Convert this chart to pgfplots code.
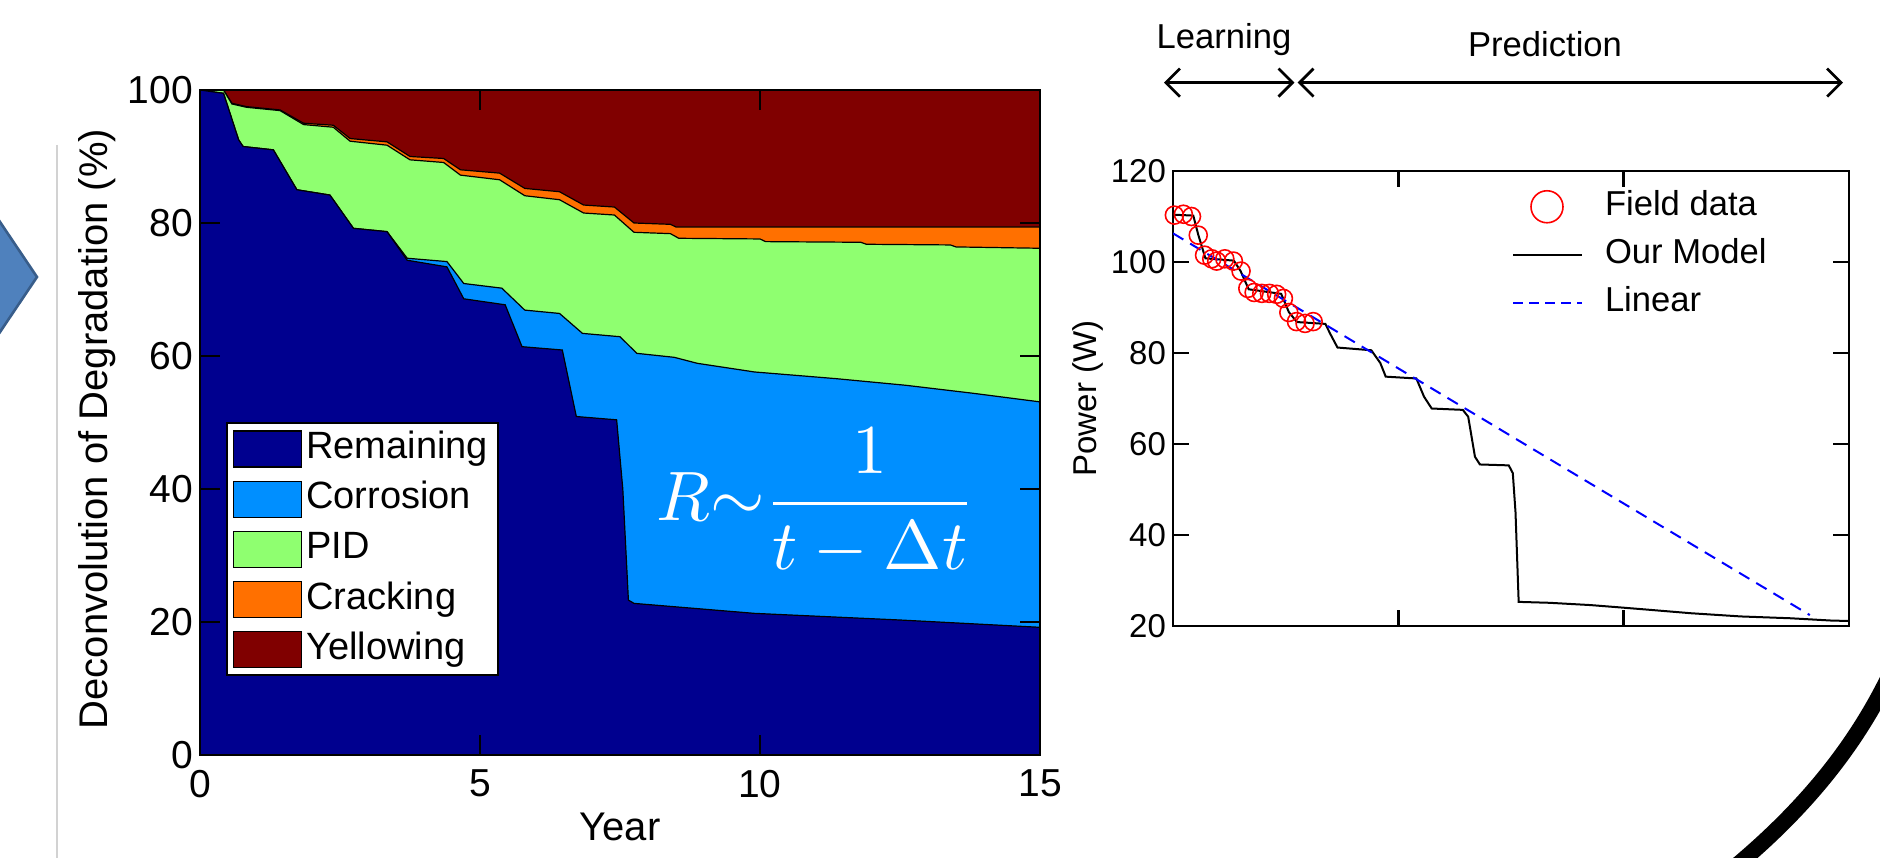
\documentclass[border=0pt]{standalone}
\usepackage{graphicx}
\usepackage{fontspec}
\setmainfont{Liberation Sans}
\usepackage{pgfplots}
\pgfplotsset{compat=1.18}
\usetikzlibrary{arrows.meta}
\definecolor{remC}{rgb}{0,0,0.56}
\definecolor{corC}{rgb}{0,0.56,1}
\definecolor{pidC}{rgb}{0.56,1,0.44}
\definecolor{crkC}{rgb}{1,0.44,0}
\definecolor{yelC}{rgb}{0.5,0,0}
\definecolor{arrowblue}{RGB}{79,129,189}
\definecolor{arrowedge}{RGB}{56,93,138}
\begin{document}
\begin{tikzpicture}
\useasboundingbox (0,0) rectangle (940pt,428.5pt);
% slide decorations
\fill[arrowblue,draw=arrowedge,line width=1.3pt] (-10pt,332.4pt) -- (18.5pt,290pt) -- (-10pt,247.6pt) -- cycle;
\draw[gray!35,line width=0.6pt] (28.5pt,356pt) -- (28.5pt,-2pt);
\draw[line width=8pt] (955pt,115pt) .. controls (935pt,60pt) and (900pt,20pt) .. (855pt,-15pt);

% ---------------- left chart ----------------
\begin{axis}[
  at={(100pt,51pt)}, anchor=south west,
  width=420pt, height=332.5pt, scale only axis,
  xmin=0, xmax=15, ymin=0, ymax=100,
  xtick={0,5,10,15}, ytick={0,20,...,100},
  tick align=inside, major tick length=10pt,
  axis on top,
  axis line style={line width=1.2pt},
  tick style={line width=1.2pt, black},
  /pgf/number format/assume math mode=true,
  tick label style={font=\fontsize{19.5}{23}\selectfont},
  xticklabel style={yshift=-4pt},
  xlabel={Year}, ylabel={Deconvolution of Degradation (\%)},
  label style={font=\fontsize{20}{24}\selectfont},
  xlabel style={at={(axis description cs:0.5,-0.108)}, anchor=center},
  ylabel style={at={(axis description cs:-0.122,0.49)}, anchor=center},
  legend image code/.code={\draw[#1,draw=black,line width=0.6pt] (0pt,-9pt) rectangle (34pt,9pt);},
  legend style={at={(axis description cs:0.031,0.5)}, anchor=north west,
    draw=black, line width=1pt, fill=white,
    font=\fontsize{19}{22}\selectfont, row sep=3.6pt,
    nodes={inner sep=2pt, text height=13.5pt, text depth=4pt}},
  legend cell align=left,
]
% Yellowing (top layer, cumulative 100)
\addplot[fill=yelC, draw=black, line width=0.6pt, forget plot] coordinates {(0,100) (15,100)} \closedcycle;
% Cracking top (cumulative)
\addplot[fill=crkC, draw=black, line width=0.6pt, forget plot] coordinates {
(0,100) (0.42,100) (0.57,98.0) (0.83,97.5) (1.43,97.0) (1.85,95.0) (2.38,94.7)
(2.68,92.7) (3.34,92.2) (3.75,90.0) (4.35,89.7) (4.65,88.0) (5.35,87.5) (5.8,85.2)
(6.42,84.7) (6.85,82.7) (7.4,82.4) (7.75,80.0) (8.4,79.8) (8.5,79.4) (15,79.4)} \closedcycle;
% PID top (cumulative)
\addplot[fill=pidC, draw=black, line width=0.6pt, forget plot] coordinates {
(0,100) (0.42,100) (0.57,97.9) (0.83,97.4) (1.43,96.9) (1.85,94.8) (2.38,94.4)
(2.68,92.3) (3.34,91.7) (3.75,89.5) (4.35,89.1) (4.65,87.2) (5.35,86.5) (5.8,84.1)
(6.42,83.5) (6.85,81.5) (7.4,81.2) (7.75,78.6) (8.4,78.4) (8.55,77.7) (10,77.6)
(10.1,77.2) (11.8,77.1) (11.9,76.8) (13.4,76.7) (13.5,76.4) (15,76.2)} \closedcycle;
% Corrosion top (cumulative)
\addplot[fill=corC, draw=black, line width=0.6pt, forget plot] coordinates {
(0,100) (0.42,99.5) (0.69,92.5) (0.77,91.5) (1.31,91.0) (1.73,85.0) (2.32,84.2)
(2.74,79.2) (3.34,78.7) (3.7,74.7) (4.41,74.2) (4.71,70.9) (5.39,70.2) (5.8,66.9)
(6.42,66.4) (6.83,63.4) (7.5,62.9) (7.8,60.4) (8.47,59.8) (8.88,58.9) (9.9,57.6)
(11.35,56.6) (12.6,55.6) (13.8,54.4) (15,53.1)} \closedcycle;
% Remaining
\addplot[fill=remC, draw=black, line width=0.6pt, forget plot] coordinates {
(0,100) (0.42,99.5) (0.69,92.5) (0.77,91.5) (1.31,91.0) (1.73,85.0) (2.32,84.2)
(2.74,79.2) (3.34,78.7) (3.7,74.4) (4.41,73.4) (4.71,68.6) (5.45,67.7) (5.75,61.4)
(6.47,60.9) (6.72,50.9) (7.44,50.4) (7.55,40) (7.65,23.3) (7.75,22.8) (9.9,21.3)
(12.5,20.3) (15,19.2)} \closedcycle;
\addlegendimage{fill=remC}\addlegendentry{Remaining}
\addlegendimage{fill=corC}\addlegendentry{Corrosion}
\addlegendimage{fill=pidC}\addlegendentry{PID}
\addlegendimage{fill=crkC}\addlegendentry{Cracking}
\addlegendimage{fill=yelC}\addlegendentry{Yellowing}
\end{axis}

\node[anchor=base west, text=white, inner sep=0pt]
  at (328pt,168pt) {\scalebox{3.5}{$R{\sim}\displaystyle\frac{1}{t-\Delta t}$}};

% ---------------- right chart ----------------
\draw[line width=1.35pt, {Straight Barb[length=7pt,width=14pt]}-{Straight Barb[length=7pt,width=14pt]}]
  (582pt,387.2pt) -- (647.2pt,387.2pt);
\draw[line width=1.35pt, {Straight Barb[length=7pt,width=14pt]}-{Straight Barb[length=7pt,width=14pt]}]
  (648.8pt,387.2pt) -- (921.5pt,387.2pt);
\node[anchor=base, inner sep=0pt, font=\fontsize{17.3}{20}\selectfont] at (612pt,404.3pt) {Learning};
\node[anchor=base, inner sep=0pt, font=\fontsize{17.3}{20}\selectfont] at (772.5pt,400.2pt) {Prediction};

\begin{axis}[
  at={(586.5pt,115.5pt)}, anchor=south west,
  width=338pt, height=227.5pt, scale only axis,
  xmin=0, xmax=15, ymin=20, ymax=120,
  xtick={5,10}, xticklabels={}, ytick={20,40,...,120},
  tick align=inside, major tick length=8pt,
  axis line style={line width=1.3pt},
  tick style={line width=1.3pt, black},
  /pgf/number format/assume math mode=true,
  tick label style={font=\fontsize{16.5}{20}\selectfont},
  ylabel={Power (W)},
  label style={font=\fontsize{16.5}{20}\selectfont},
  ylabel style={at={(axis description cs:-0.126,0.5)}, anchor=center},
  legend style={at={(axis description cs:0.492,0.975)}, anchor=north west,
    draw=none, fill=none,
    font=\fontsize{17.3}{20}\selectfont, row sep=4pt,
    nodes={inner sep=2pt, text height=12.5pt, text depth=3.5pt}},
  legend cell align=left,
]
\addplot[only marks, mark=o, mark size=4.5pt, red, mark options={line width=0.8pt},
  legend image code/.code={\path[draw=none,fill=none] (0pt,-8pt) rectangle (44pt,8pt);
    \draw[red,line width=0.8pt,fill=none] (17pt,0pt) circle (8pt);}]
  coordinates {
(0.03,110.3) (0.23,110.5) (0.41,110.0) (0.56,105.9) (0.70,101.5) (0.86,100.7)
(0.97,100.2) (1.15,100.7) (1.34,100.2) (1.51,98.0) (1.66,94.2) (1.80,93.3)
(1.97,93.1) (2.14,93.1) (2.30,92.9) (2.45,92.0) (2.57,88.9) (2.74,86.9)
(2.93,86.5) (3.11,86.9)};
\addlegendentry{Field data}
\addplot[black, line width=1pt,
  legend image code/.code={\path[draw=none,fill=none] (0pt,-8pt) rectangle (44pt,8pt);
    \draw[black,line width=1pt] (0pt,0pt) -- (34.5pt,0pt);}]
  coordinates {
(0,110.4) (0.45,110.2) (0.56,106) (0.72,100.8) (1.35,100.3) (1.5,98) (1.68,94)
(2.4,93.0) (2.57,89) (2.75,86.8) (3.38,86.4) (3.5,84) (3.65,81.2) (4.4,80.6)
(4.6,77.8) (4.72,74.8) (5.4,74.4) (5.57,70.4) (5.74,67.8) (6.43,67.5) (6.55,66)
(6.7,57.2) (6.81,55.5) (7.45,55.3) (7.54,53.6) (7.6,45) (7.67,25.3) (8.35,25.1)
(9.26,24.6) (9.9,24.1) (10.4,23.7) (11.5,22.8) (12.6,22.1) (13.7,21.7) (14.6,21.2) (15,21.1)};
\addlegendentry{Our Model}
\addplot[blue, line width=1pt, dash pattern=on 6pt off 4pt,
  legend image code/.code={\path[draw=none,fill=none] (0pt,-8pt) rectangle (44pt,8pt);
    \draw[blue,line width=1pt,dash pattern=on 5pt off 3pt] (0pt,0pt) -- (34.5pt,0pt);}]
  coordinates {(0,106.3) (14.13,22.4)};
\addlegendentry{Linear}
\end{axis}
\end{tikzpicture}
\end{document}
